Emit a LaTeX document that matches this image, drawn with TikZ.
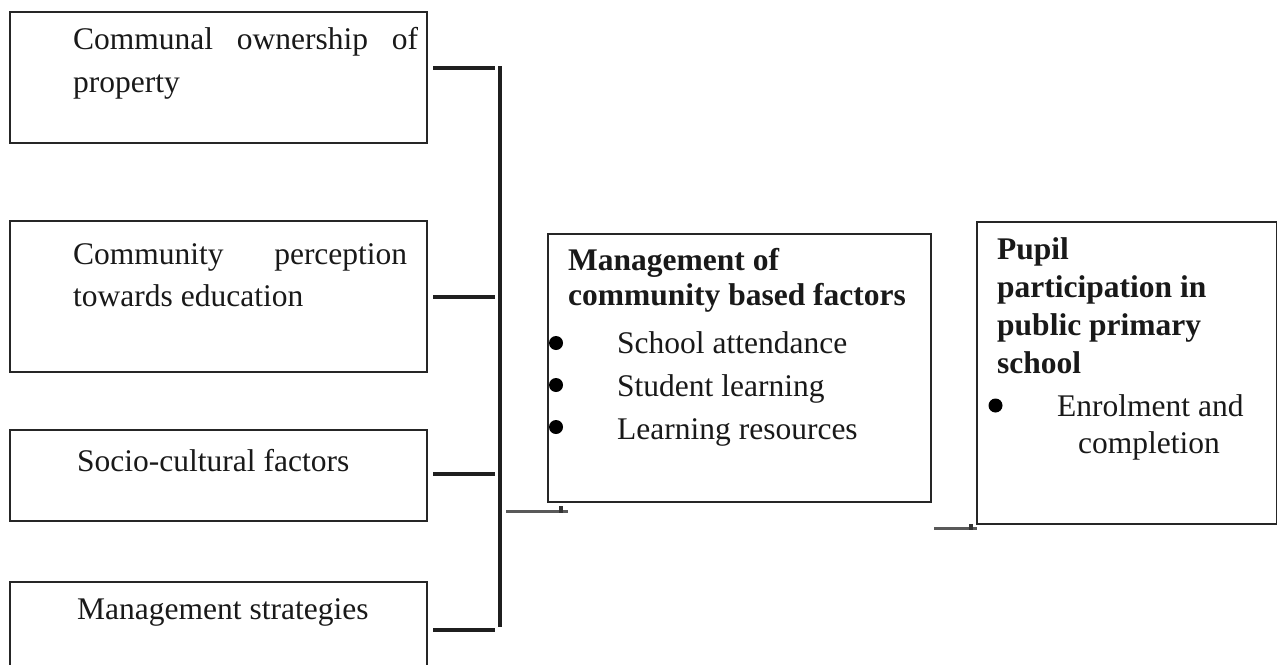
\documentclass[tikz,border=0pt]{standalone}
\usepackage{fontspec}
\setmainfont{Liberation Serif}
\begin{document}
\begin{tikzpicture}[x=1pt,y=-1pt,
  box/.style={draw=black!85,line width=1.8pt,anchor=north west,inner sep=0pt,outer sep=0pt},
  txt/.style={anchor=base west,inner sep=0pt,font=\fontsize{31.5}{36}\selectfont,text=black!90},
  btxt/.style={txt,font=\fontsize{31.5}{36}\selectfont\bfseries},
  link/.style={line width=3.6pt,black!88},
  thin/.style={line width=3pt,black!65},
  tick/.style={line width=4pt,black!80},
  dot/.style={circle,fill=black,inner sep=0pt,minimum size=14pt}]
\clip (0,0) rectangle (1277,664);
\fill[white] (0,0) rectangle (1277,664);
% left boxes
\node[box,minimum width=417pt,minimum height=131pt] (b1) at (10,12) {};
\node[box,minimum width=417pt,minimum height=151pt] (b2) at (10,221) {};
\node[box,minimum width=417pt,minimum height=91pt] (b3) at (10,430) {};
\node[box,minimum width=417pt,minimum height=130pt] (b4) at (10,582) {};
% texts of left boxes
\node[txt] (t1a) at (73,49) {\makebox[345pt][s]{Communal ownership of}};
\node[txt] (t1b) at (73,92) {property};
\node[txt] (t2a) at (73,264) {\makebox[334pt][s]{Community perception}};
\node[txt] (t2b) at (73,306) {towards education};
\node[txt] (t3) at (77,471) {Socio-cultural factors};
\node[txt] (t4) at (77,619) {Management strategies};
% bracket connectors
\coordinate (h1a) at (433,68); \coordinate (h1b) at (495,68);
\coordinate (h2a) at (433,297); \coordinate (h2b) at (495,297);
\coordinate (h3a) at (433,474); \coordinate (h3b) at (495,474);
\coordinate (h4a) at (433,630); \coordinate (h4b) at (495,630);
\coordinate (vtop) at (500,66); \coordinate (vbot) at (500,627);
\draw[link] (h1a) -- (h1b);
\draw[link] (h2a) -- (h2b);
\draw[link] (h3a) -- (h3b);
\draw[link] (h4a) -- (h4b);
\draw[link] (vtop) -- (vbot);
% middle box
\node[box,minimum width=383pt,minimum height=268pt] (mid) at (548,234) {};
\node[btxt] (m1) at (568,270) {Management of};
\node[btxt] (m2) at (568,305) {community based factors};
\node[dot] (d1) at (556,343) {};
\node[dot] (d2) at (556,385) {};
\node[dot] (d3) at (556,427) {};
\node[txt] (s1) at (617,353) {School attendance};
\node[txt] (s2) at (617,396) {Student learning};
\node[txt] (s3) at (617,439) {Learning resources};
\coordinate (ma) at (506,511); \coordinate (mb) at (568,511);
\coordinate (mt1) at (560.5,506); \coordinate (mt2) at (560.5,513);
\draw[thin] (ma) -- (mb);
\draw[tick] (mt1) -- (mt2);
% right box
\node[box,minimum width=300pt,minimum height=302pt] (right) at (977,222) {};
\node[btxt] (r1) at (997,259) {Pupil};
\node[btxt] (r2) at (997,297) {participation in};
\node[btxt] (r3) at (997,335) {public primary};
\node[btxt] (r4) at (997,373) {school};
\node[dot] (d4) at (995.5,405.5) {};
\node[txt] (r5) at (1057,416) {Enrolment and};
\node[txt,anchor=base] (r6) at (1149,453) {completion};
\coordinate (ra) at (934,528.5); \coordinate (rb) at (977,528.5);
\coordinate (rt1) at (970.5,524); \coordinate (rt2) at (970.5,530);
\draw[thin] (ra) -- (rb);
\draw[tick] (rt1) -- (rt2);
\end{tikzpicture}
\end{document}
